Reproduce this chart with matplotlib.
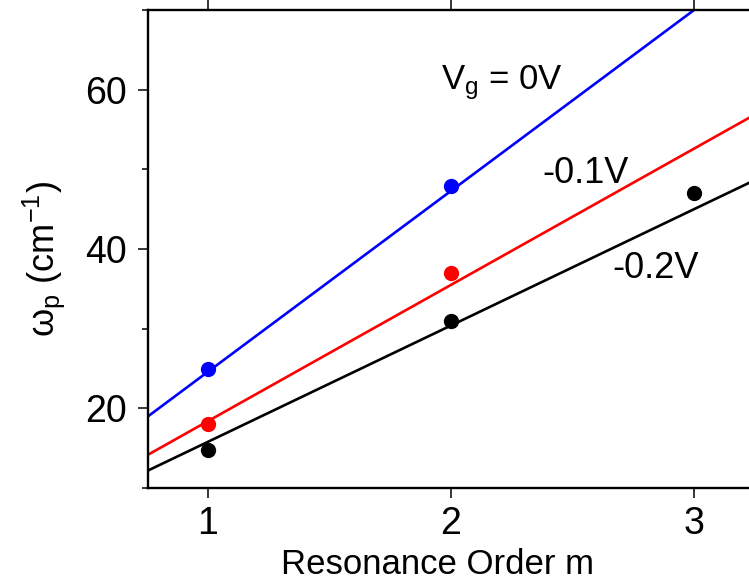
import matplotlib
matplotlib.use("Agg")
import matplotlib.pyplot as plt
import numpy as np
from matplotlib.ticker import MultipleLocator

plt.rcParams['font.family'] = ['Liberation Sans', 'DejaVu Sans']
plt.rcParams['mathtext.fontset'] = 'custom'
plt.rcParams['mathtext.rm'] = 'Liberation Sans'
plt.rcParams['mathtext.it'] = 'Liberation Sans'
plt.rcParams['mathtext.default'] = 'regular'

# Data
m_blue = [1, 2]
w_blue = [24.9, 47.9]
m_red = [1, 2]
w_red = [18.0, 37.0]
m_black = [1, 2, 3]
w_black = [14.8, 30.9, 47.0]

# Linear fit lines (slope, intercept)
fit_blue = (22.7, 1.9)
fit_red = (17.1, 1.3)
fit_black = (14.6, 1.2)

colors = {'blue': '#0000ff', 'red': '#ff0000', 'black': '#000000'}

fig = plt.figure(figsize=(7.49, 5.86), dpi=100)
ax = fig.add_axes([148/749, (586-488)/586, 1 - 148/749, (488-10)/586])

xlim = (0.753, 3.226)
xx = np.array(xlim)
for (m, w, fit, c) in [(m_blue, w_blue, fit_blue, colors['blue']),
                       (m_red, w_red, fit_red, colors['red']),
                       (m_black, w_black, fit_black, colors['black'])]:
    ax.plot(xx, fit[0]*xx + fit[1], color=c, lw=1.9, zorder=2)
    ax.plot(m, w, 'o', color=c, ms=11, mec='none', zorder=3)

ax.set_xlim(*xlim)
ax.set_ylim(10, 70)
ax.xaxis.set_major_locator(MultipleLocator(1))
ax.yaxis.set_major_locator(MultipleLocator(20))
ax.yaxis.set_minor_locator(MultipleLocator(10))

ax.spines['right'].set_visible(False)
for s in ['left', 'bottom', 'top']:
    ax.spines[s].set_linewidth(1.7)

ax.tick_params(axis='both', which='major', direction='out', length=7, width=1.1,
               labelsize=27)
ax.tick_params(axis='y', which='major', pad=8)
ax.tick_params(axis='x', which='major', pad=6)
ax.tick_params(axis='y', which='minor', direction='out', length=4, width=1.1)
ax.tick_params(axis='x', top=True, labeltop=False)

ax.set_xlabel('Resonance Order m', fontsize=25)
ax.xaxis.set_label_coords(0.481, -0.125)
ax.xaxis.label.set_va('top')
ax.set_ylabel(r'$\omega_{p}$ (cm$^{-1}$)', fontsize=26)
ax.yaxis.set_label_coords(-0.135, 0.479)

ax.text(1.959, 60.1, r'V$_{g}$ = 0V', fontsize=25, va='baseline', ha='left')
ax.text(2.374, 48.3, '-0.1V', fontsize=26, va='baseline', ha='left')
ax.text(2.663, 36.35, '-0.2V', fontsize=26, va='baseline', ha='left')

fig.savefig('out.png', dpi=100)
